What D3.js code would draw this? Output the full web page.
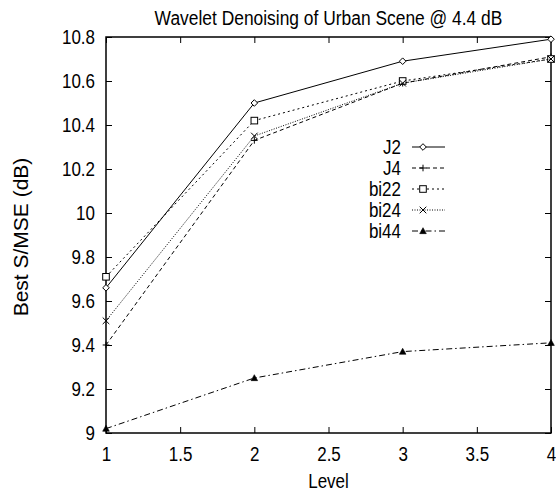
<!DOCTYPE html>
<html><head><meta charset="utf-8">
<script src="https://cdn.jsdelivr.net/npm/d3@7"></script>
<style>body{margin:0;background:#fff}svg{display:block}text{font-family:"Liberation Sans",Arial,sans-serif;fill:#000}</style>
</head><body>
<script>
const levels=[1,2,3,4];
const seriesNames=["J2","J4","bi22","bi24","bi44"];
const J2=[9.66,10.50,10.69,10.79];
const J4=[9.40,10.33,10.59,10.71];
const bi22=[9.71,10.42,10.60,10.70];
const bi24=[9.51,10.35,10.59,10.70];
const bi44=[9.02,9.25,9.37,9.41];
const xTicks=[1,1.5,2,2.5,3,3.5,4];
const yTicks=[9,9.2,9.4,9.6,9.8,10,10.2,10.4,10.6,10.8];
const title="Wavelet Denoising of Urban Scene @ 4.4 dB";
const xLabel="Level", yLabel="Best S/MSE (dB)";

const values=[J2,J4,bi22,bi24,bi44];
const dashes=[null,"4,3","2,3","1,1.5","6,3,1.5,3"];
const markers=["diamond","plus","square","cross","triangle"];

const W=556,H=491,m={l:106,r:5,t:37,b:58};
const SY=1.15, FS=17;
const svg=d3.select("body").append("svg").attr("width",W).attr("height",H);
const x=d3.scaleLinear().domain([1,4]).range([m.l,W-m.r]);
const y=d3.scaleLinear().domain([9,10.8]).range([H-m.b,m.t]);

const g=svg.append("g");
const fmt=d=>d3.format("~g")(d);
g.append("g").attr("transform",`translate(0,${y(9)})`).call(d3.axisBottom(x).tickValues(xTicks).tickFormat(fmt).tickSizeInner(-6).tickSizeOuter(0).tickPadding(12))
 .call(a=>{a.select(".domain").remove();a.selectAll("text").attr("font-size",FS).attr("transform",`scale(1,${SY})`);});
g.append("g").attr("transform",`translate(0,${y(10.8)})`).call(d3.axisTop(x).tickValues(xTicks).tickFormat("").tickSizeInner(-6).tickSizeOuter(0))
 .call(a=>a.select(".domain").remove());
g.append("g").attr("transform",`translate(${x(1)},0)`).call(d3.axisLeft(y).tickValues(yTicks).tickFormat(fmt).tickSizeInner(-6).tickSizeOuter(0).tickPadding(11))
 .call(a=>{a.select(".domain").remove();a.selectAll("text").attr("font-size",FS).attr("transform",`scale(1,${SY})`);});
g.append("g").attr("transform",`translate(${x(4)},0)`).call(d3.axisRight(y).tickValues(yTicks).tickFormat("").tickSizeInner(-6).tickSizeOuter(0))
 .call(a=>a.select(".domain").remove());
g.selectAll(".tick line").attr("stroke","#000");
g.selectAll("text").attr("fill","#000").attr("font-family",null);
g.append("rect").attr("x",x(1)).attr("y",y(10.8)).attr("width",x(4)-x(1)).attr("height",y(9)-y(10.8))
 .attr("fill","none").attr("stroke","#000").attr("stroke-width",1.5);

function stext(tx,ty,str,size,anchor){
  return svg.append("text").attr("transform",`translate(${tx},${ty}) scale(1,${SY})`).attr("text-anchor",anchor||"middle").attr("font-size",size).text(str);
}
stext((x(1)+x(4))/2,25,title,17.4);
stext((x(1)+x(4))/2,488,xLabel,FS);
svg.append("text").attr("transform",`translate(28,${(y(9)+y(10.8))/2+2}) rotate(-90)`).attr("text-anchor","middle").attr("font-size",21).text(yLabel);

function marker(sel,type,cx,cy){
  const s=3.3;
  if(type==="diamond") sel.append("path").attr("d",`M${cx},${cy-s}L${cx+s},${cy}L${cx},${cy+s}L${cx-s},${cy}Z`).attr("fill","#fff").attr("stroke","#000");
  else if(type==="plus") sel.append("path").attr("d",`M${cx-s},${cy}H${cx+s}M${cx},${cy-s}V${cy+s}`).attr("stroke","#000");
  else if(type==="square") sel.append("rect").attr("x",cx-s).attr("y",cy-s).attr("width",2*s).attr("height",2*s).attr("fill","#fff").attr("stroke","#000");
  else if(type==="cross") sel.append("path").attr("d",`M${cx-s},${cy-s}L${cx+s},${cy+s}M${cx-s},${cy+s}L${cx+s},${cy-s}`).attr("stroke","#000");
  else sel.append("path").attr("d",`M${cx},${cy-s}L${cx+s},${cy+s*0.8}L${cx-s},${cy+s*0.8}Z`).attr("fill","#000").attr("stroke","#000").attr("stroke-width",0.6);
}
const line=d3.line().x((d,i)=>x(levels[i])).y(d=>y(d));
values.forEach((vals,k)=>{
  const p=svg.append("path").attr("d",line(vals)).attr("fill","none").attr("stroke","#000").attr("stroke-width",1);
  if(dashes[k]) p.attr("stroke-dasharray",dashes[k]);
  vals.forEach((v,i)=>marker(svg,markers[k],x(levels[i]),y(v)));
});
const ly0=147,ldy=21;
seriesNames.forEach((n,k)=>{
  const yy=ly0+k*ldy;
  stext(401,yy+7,n,FS,"end");
  const p=svg.append("line").attr("x1",412).attr("x2",445).attr("y1",yy).attr("y2",yy).attr("stroke","#000");
  if(dashes[k]) p.attr("stroke-dasharray",dashes[k]);
  marker(svg,markers[k],423,yy);
});
</script>
</body></html>
